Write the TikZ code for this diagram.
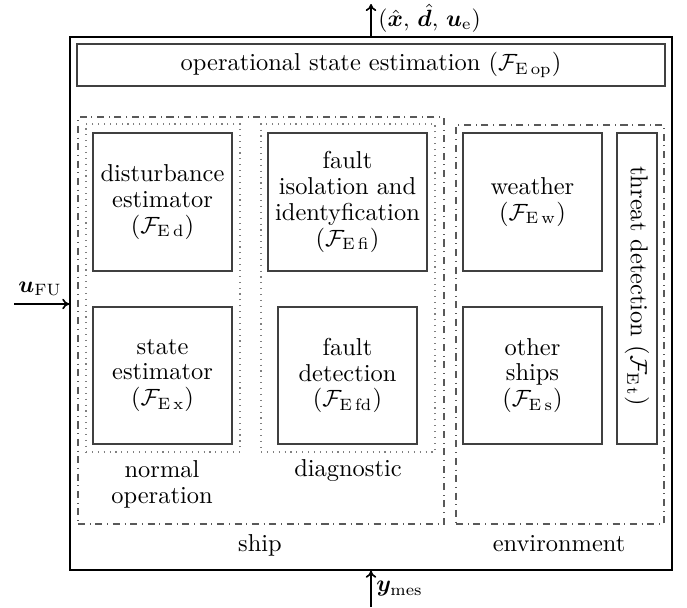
\documentclass[tikz,border=0pt]{standalone}
\usepackage{amsmath}
\usepackage{bm}
\usetikzlibrary{fit,arrows.meta}
\begin{document}
\begin{tikzpicture}[x=0.4255pt,y=-0.4255pt,
  every node/.style={font=\fontsize{10.4}{11}\selectfont},
  outer/.style={draw=black,line width=0.6pt,inner sep=0pt},
  blk/.style={draw=black!75,line width=0.5pt,inner sep=0pt},
  grp/.style={draw=black!65,dash dot,line width=0.5pt,inner sep=0pt},
  sub/.style={draw=black!50,dotted,line width=0.5pt,inner sep=0pt},
  lbl/.style={align=center,inner sep=0pt},
  sig/.style={-{To[length=3pt,width=4.5pt]},line width=0.7pt}]
\useasboundingbox (0,0) rectangle (687,607);
% outer box
\node[outer,fit={(70,37) (672,570)}] (sys) {};
% operational state estimation
\node[blk,fit={(77,44) (665,86)}] (op) {};
\node[lbl] (optxt) at (op.center) {operational state estimation ($\mathcal{F}_{\mathrm{E\,op}}$)};
% groups
\node[grp,fit={(78,117) (444,524)}] (ship) {};
\node[sub,fit={(86,124) (240,452)}] (normal) {};
\node[sub,fit={(261,124) (435,452)}] (diag) {};
\node[grp,fit={(456,125) (664,524)}] (env) {};
% blocks
\node[blk,fit={(93,133) (232,271)}] (dist) {};
\node[lbl] (disttxt) at (dist.center) {disturbance\\estimator\\($\mathcal{F}_{\mathrm{E\,d}}$)};
\node[blk,fit={(93,307) (232,444)}] (state) {};
\node[lbl] (statetxt) at (state.center) {state\\estimator\\($\mathcal{F}_{\mathrm{E\,x}}$)};
\node[blk,fit={(268,133) (427,271)}] (fi) {};
\node[lbl] (fitxt) at (fi.center) {fault\\isolation and\\identyfication\\($\mathcal{F}_{\mathrm{E\,fi}}$)};
\node[blk,fit={(278,307) (417,444)}] (fd) {};
\node[lbl] (fdtxt) at (fd.center) {fault\\detection\\($\mathcal{F}_{\mathrm{E\,fd}}$)};
\node[blk,fit={(463,133) (602,271)}] (weather) {};
\node[lbl] (weathertxt) at (weather.center) {weather\\($\mathcal{F}_{\mathrm{E\,w}}$)};
\node[blk,fit={(463,307) (602,444)}] (others) {};
\node[lbl] (otherstxt) at (others.center) {other\\ships\\($\mathcal{F}_{\mathrm{E\,s}}$)};
\node[blk,fit={(617,133) (657,444)}] (threat) {};
\node[lbl,rotate=-90] (threattxt) at ([yshift=1pt]threat.center) {threat detection ($\mathcal{F}_{\mathrm{E\,t}}$)};
% group labels
\node[lbl] (normallbl) at (162,484) {normal\\operation};
\node[lbl] (diaglbl) at (348,471) {diagnostic};
\node[lbl] (shiplbl) at (260,545) {ship};
\node[lbl] (envlbl) at (559,544) {environment};
% signals
\coordinate (outtop) at (371,4);
\coordinate (ufu) at (14,304);
\coordinate (ymes) at (371,607);
\draw[sig] (sys.north -| outtop) -- (outtop);
\node[lbl,anchor=west] (outlbl) at (378,18) {$(\hat{\bm{x}},\,\hat{\bm{d}},\,\bm{u}_{\mathrm{e}})$};
\draw[sig] (ufu) -- (ufu -| sys.west);
\node[lbl] (ufulbl) at (40,289) {$\bm{u}_{\mathrm{FU}}$};
\draw[sig] (ymes) -- (ymes |- sys.south);
\node[lbl,anchor=west] (ymeslbl) at (376,589) {$\bm{y}_{\mathrm{mes}}$};
\end{tikzpicture}
\end{document}
